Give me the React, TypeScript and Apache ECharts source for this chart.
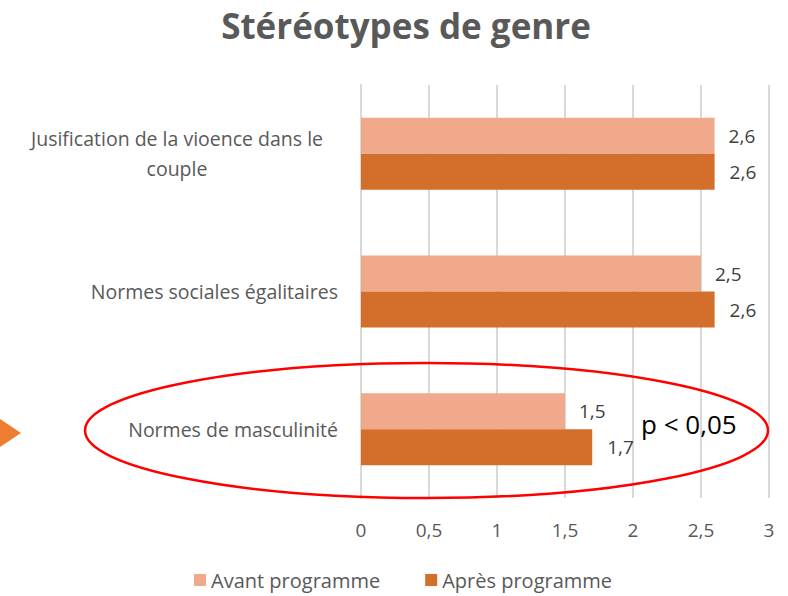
import React, { useEffect, useRef } from "react";
import * as echarts from "echarts";

const categories = [
  "Jusification de la vioence dans le couple",
  "Normes sociales égalitaires",
  "Normes de masculinité",
];
const avantValues = [2.6, 2.5, 1.5];
const apresValues = [2.6, 2.6, 1.7];
const seriesNames = ["Avant programme", "Après programme"];
const chartTitle = "Stéréotypes de genre";
const annotation = "p < 0,05";

const FONT = "'Open Sans', sans-serif";
const fmt = (v: number) => String(v).replace(".", ",");

export default function App() {
  const ref = useRef<HTMLDivElement>(null);
  useEffect(() => {
    if (!ref.current) return;
    const chart = echarts.init(ref.current, undefined, { renderer: "svg" });
    chart.setOption({
      animation: false,
      title: {
        text: chartTitle,
        left: 401,
        textAlign: "center",
        top: 3,
        textStyle: { fontFamily: FONT, fontSize: 35, fontWeight: "bold", color: "#595959" },
      },
      legend: {
        data: seriesNames,
        left: 189,
        top: 565,
        icon: "rect",
        itemWidth: 12,
        itemHeight: 12,
        itemGap: 45,
        textStyle: { fontFamily: FONT, fontSize: 20, color: "#595959" },
      },
      grid: { left: 361, right: 19, top: 85, bottom: 98, containLabel: false },
      xAxis: {
        type: "value",
        min: 0,
        max: 3,
        interval: 0.5,
        axisLine: { show: false },
        axisTick: { show: false },
        splitLine: { show: true, lineStyle: { color: "#D9D9D9", width: 2 } },
        axisLabel: {
          formatter: (v: number) => fmt(v),
          fontFamily: FONT,
          fontSize: 19,
          color: "#595959",
          margin: 22,
        },
      },
      yAxis: {
        type: "category",
        inverse: true,
        data: categories,
        axisLine: { show: true, lineStyle: { color: "#D9D9D9", width: 2 } },
        axisTick: { show: false },
        axisLabel: {
          margin: 23,
          fontFamily: FONT,
          fontSize: 19.5,
          color: "#595959",
          lineHeight: 30,
          formatter: (v: string) =>
            v === categories[0]
              ? "{c|Jusification de la vioence dans le}\n{c|couple}"
              : v,
          rich: {
            c: {
              width: 322,
              align: "center",
              fontFamily: FONT,
              fontSize: 19.5,
              color: "#595959",
              lineHeight: 30,
            },
          },
        },
      },
      series: [
        {
          name: seriesNames[0],
          type: "bar",
          data: avantValues,
          barWidth: 36,
          barGap: "0%",
          itemStyle: { color: "#F1A98B" },
          label: {
            show: true,
            position: "right",
            distance: 14,
            formatter: (p: any) => fmt(p.value),
            fontFamily: FONT,
            fontSize: 19,
            color: "#404040",
          },
        },
        {
          name: seriesNames[1],
          type: "bar",
          data: apresValues,
          barWidth: 36,
          barGap: "0%",
          itemStyle: { color: "#D46F2B" },
          label: {
            show: true,
            position: "right",
            distance: 15,
            formatter: (p: any) => fmt(p.value),
            fontFamily: FONT,
            fontSize: 19,
            color: "#404040",
          },
        },
      ],
      graphic: [
        {
          type: "ellipse",
          shape: { cx: 426.5, cy: 430.5, rx: 341.5, ry: 67.5 },
          style: { fill: "none", stroke: "#FF0000", lineWidth: 2.5 },
          z: 100,
        },
        {
          type: "polygon",
          shape: { points: [[0, 419], [21, 433], [0, 447]] },
          style: { fill: "#ED7D31" },
          z: 100,
        },
        {
          type: "text",
          x: 641,
          y: 424,
          style: {
            text: annotation,
            fontFamily: FONT,
            fontSize: 26,
            fill: "#000000",
            verticalAlign: "middle",
          },
          z: 100,
        },
      ],
    });
    return () => chart.dispose();
  }, []);
  return (
    <div
      ref={ref}
      style={{ position: "fixed", left: 0, top: 0, width: 788, height: 596, background: "#fff" }}
    />
  );
}
